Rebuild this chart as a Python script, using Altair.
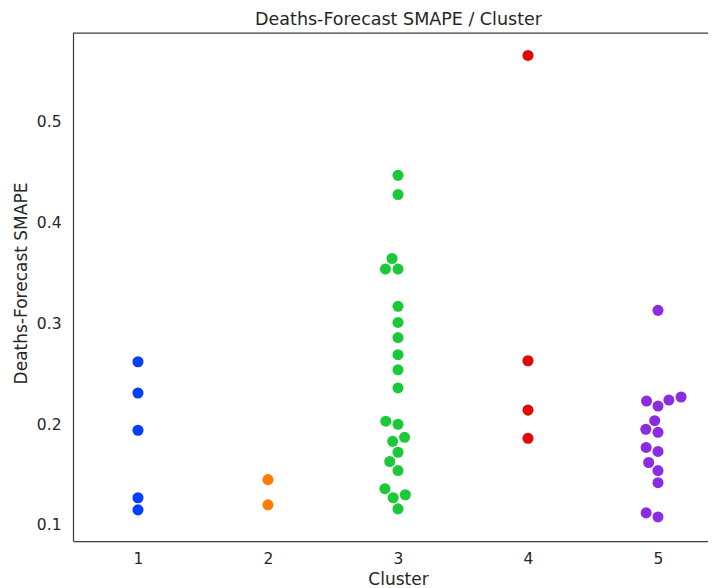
import numpy as np
import pandas as pd
import altair as alt

# ---- data ----
clusters = [1, 2, 3, 4, 5]
smape_c1 = [0.262, 0.231, 0.194, 0.127, 0.115]
smape_c2 = [0.145, 0.120]
smape_c3 = [0.447, 0.428, 0.3645, 0.354, 0.354, 0.317, 0.301, 0.286, 0.269,
            0.254, 0.236, 0.203, 0.200, 0.187, 0.183, 0.1722, 0.163, 0.154,
            0.136, 0.130, 0.127, 0.116]
smape_c4 = [0.566, 0.263, 0.214, 0.186]
smape_c5 = [0.313, 0.227, 0.224, 0.223, 0.218, 0.2035, 0.195, 0.192, 0.177,
            0.173, 0.162, 0.154, 0.142, 0.112, 0.108]
palette = ["#023eff", "#ff7c00", "#1ac938", "#e8000b", "#8b2be2"]
y_ticks = [0.1, 0.2, 0.3, 0.4, 0.5]
title_text = ["Deaths-Forecast SMAPE / Cluster"]

# ---- layout ----
W, H = 635, 508
PX_PER_X = 130.0
X_DOM = [0.5, 0.5 + W / PX_PER_X]
Y_DOM = [0.0841, 0.5883]
PX_PER_Y = H / (Y_DOM[1] - Y_DOM[0])
DIAM = 12.0  # swarm marker diameter in px


def swarm_offsets(values, d):
    """seaborn-style beeswarm, returns x offsets in pixels."""
    vals = np.asarray(values, dtype=float)
    order = np.argsort(vals, kind="mergesort")
    ys = vals[order] * PX_PER_Y
    pts = [(0.0, ys[0])]
    for y in ys[1:]:
        neigh = []
        for xj, yj in reversed(pts):
            if y - yj < d:
                neigh.append((xj, yj))
            else:
                break
        neigh = neigh[::-1]
        cands = [0.0]
        left = True
        for xj, yj in neigh:
            dx = np.sqrt(max(d * d - (y - yj) ** 2, 0.0)) * 1.05
            cl, cr = xj - dx, xj + dx
            cands += [cl, cr] if left else [cr, cl]
            left = not left
        cands = np.array(cands)
        cands = cands[np.argsort(np.abs(cands), kind="mergesort")]
        chosen = cands[0]
        if neigh:
            for c in cands:
                if all((xj - c) ** 2 + (yj - y) ** 2 >= d * d for xj, yj in neigh):
                    chosen = c
                    break
        pts.append((chosen, y))
    offs = np.empty(len(vals))
    offs[order] = [p[0] for p in pts]
    return offs


rows = []
for c, vals in zip(clusters, [smape_c1, smape_c2, smape_c3, smape_c4, smape_c5]):
    offs = swarm_offsets(vals, DIAM)
    for v, o in zip(vals, offs):
        rows.append({"cluster": str(c), "smape": v, "xpos": c + o / PX_PER_X})
df = pd.DataFrame(rows)

TEXT = "#262626"
FONT = "DejaVu Sans"

points = alt.Chart(df).mark_circle(size=122, opacity=1).encode(
    x=alt.X("xpos:Q",
            scale=alt.Scale(domain=X_DOM, nice=False, zero=False),
            axis=alt.Axis(values=clusters, format="d", title="Cluster",
                          labelBaseline="alphabetic", labelPadding=22,
                          titleX=325, titleY=43, titleAlign="center",
                          titleBaseline="alphabetic")),
    y=alt.Y("smape:Q",
            scale=alt.Scale(domain=Y_DOM, nice=False, zero=False),
            axis=alt.Axis(values=y_ticks, format=".1f",
                          title="Deaths-Forecast SMAPE",
                          labelPadding=12, titleAngle=270, titleX=-47,
                          titleY=250, titleAlign="center",
                          titleBaseline="alphabetic")),
    color=alt.Color("cluster:N",
                    scale=alt.Scale(domain=[str(c) for c in clusters], range=palette),
                    legend=None),
)

top_spine = alt.Chart(pd.DataFrame({"edge": ["top"]})).mark_rule(
    color="#3d3d3d", strokeWidth=1.25
).encode(x=alt.value(0), x2=alt.value(W), y=alt.value(0))

title = alt.Chart(pd.DataFrame({"t": title_text})).mark_text(
    font=FONT, fontSize=17.5, color=TEXT, align="center", baseline="alphabetic"
).encode(text="t:N", x=alt.value(325.5), y=alt.value(-8))

chart = alt.layer(points, top_spine, title).properties(
    width=W,
    height=H,
    padding={"left": 65, "top": 25, "right": 0, "bottom": 47},
    autosize=alt.AutoSizeParams(type="none"),
).configure_view(stroke=None).configure_axis(
    grid=False, ticks=False, tickSize=0,
    domainColor="#3d3d3d", domainWidth=1.25,
    labelFont=FONT, labelFontSize=15.5, labelColor=TEXT,
    titleFont=FONT, titleFontSize=17, titleFontWeight="normal", titleColor=TEXT,
)

chart.save("out.html", embed_options={"renderer": "svg", "actions": False})
